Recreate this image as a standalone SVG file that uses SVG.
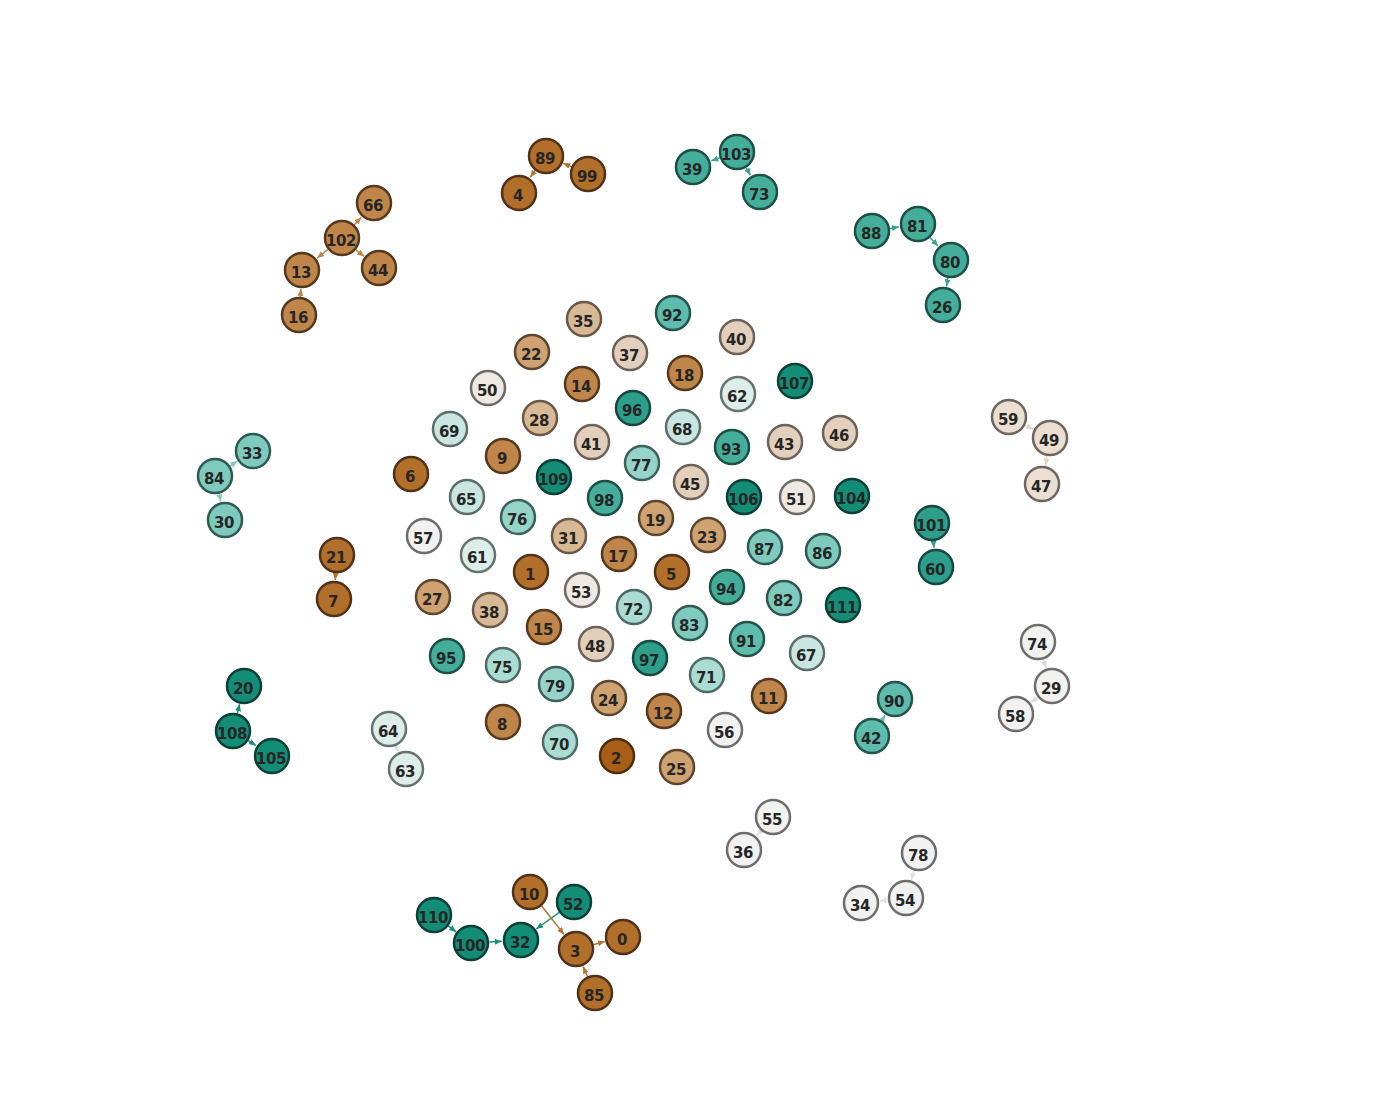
<svg xmlns="http://www.w3.org/2000/svg" width="1374" height="1100" viewBox="0 0 1374 1100">
<style>
.node circle{stroke-width:2.5}
.node text{font-family:"DejaVu Sans","Liberation Sans",sans-serif;font-size:15px;font-weight:bold;letter-spacing:-0.5px;fill:#262626;text-anchor:middle}
.b0 circle{fill:#a85e16;stroke:#4e2d0b}
.b1 circle{fill:#b16f2a;stroke:#50321a}
.b2 circle{fill:#bf8549;stroke:#54391f}
.b3 circle{fill:#cfa272;stroke:#5e4530}
.b4 circle{fill:#d8b995;stroke:#6a5849}
.b5 circle{fill:#e3d0bc;stroke:#6c6259}
.b6 circle{fill:#ebdfd2;stroke:#6e6660}
.n circle{fill:#efe9e3;stroke:#6f6b68}
.n2 circle{fill:#f1f1f0;stroke:#6d6d6d}
.t0 circle{fill:#dcedea;stroke:#667370}
.t1 circle{fill:#c9e6e0;stroke:#5c6f6b}
.t2 circle{fill:#abdcd3;stroke:#4e6b65}
.t3 circle{fill:#96d3c8;stroke:#3d615a}
.t4 circle{fill:#7ecabd;stroke:#2f5a52}
.t5 circle{fill:#5dbcab;stroke:#24544a}
.t6 circle{fill:#45ae9b;stroke:#1d4f45}
.t7 circle{fill:#2c9e89;stroke:#15483e}
.t8 circle{fill:#148d77;stroke:#0c3f35}
.e{fill:none;stroke-width:1.5}
</style>
<defs>
<marker id="mb2" markerUnits="userSpaceOnUse" markerWidth="7" markerHeight="6" refX="7" refY="3" orient="auto"><path d="M0,0L7,3L0,6z" fill="#c0874a"/></marker>
<marker id="mb1" markerUnits="userSpaceOnUse" markerWidth="7" markerHeight="6" refX="7" refY="3" orient="auto"><path d="M0,0L7,3L0,6z" fill="#b8732e"/></marker>
<marker id="mt6" markerUnits="userSpaceOnUse" markerWidth="7" markerHeight="6" refX="7" refY="3" orient="auto"><path d="M0,0L7,3L0,6z" fill="#35a590"/></marker>
<marker id="mt4" markerUnits="userSpaceOnUse" markerWidth="7" markerHeight="6" refX="7" refY="3" orient="auto"><path d="M0,0L7,3L0,6z" fill="#7ecabd"/></marker>
<marker id="mt7" markerUnits="userSpaceOnUse" markerWidth="7" markerHeight="6" refX="7" refY="3" orient="auto"><path d="M0,0L7,3L0,6z" fill="#2e9f8a"/></marker>
<marker id="mt8" markerUnits="userSpaceOnUse" markerWidth="7" markerHeight="6" refX="7" refY="3" orient="auto"><path d="M0,0L7,3L0,6z" fill="#17907a"/></marker>
<marker id="mt5" markerUnits="userSpaceOnUse" markerWidth="7" markerHeight="6" refX="7" refY="3" orient="auto"><path d="M0,0L7,3L0,6z" fill="#5ebfae"/></marker>
<marker id="ml1" markerUnits="userSpaceOnUse" markerWidth="7" markerHeight="6" refX="7" refY="3" orient="auto"><path d="M0,0L7,3L0,6z" fill="#e3d5c6"/></marker>
<marker id="ml2" markerUnits="userSpaceOnUse" markerWidth="7" markerHeight="6" refX="7" refY="3" orient="auto"><path d="M0,0L7,3L0,6z" fill="#d9dedc"/></marker>
<marker id="ml3" markerUnits="userSpaceOnUse" markerWidth="7" markerHeight="6" refX="7" refY="3" orient="auto"><path d="M0,0L7,3L0,6z" fill="#e4e1dd"/></marker>
<marker id="ml4" markerUnits="userSpaceOnUse" markerWidth="7" markerHeight="6" refX="7" refY="3" orient="auto"><path d="M0,0L7,3L0,6z" fill="#cfe6e1"/></marker>
</defs>
<rect width="1374" height="1100" fill="#ffffff"/>
<g id="connectors">
<line class="e" stroke="#c0874a" marker-end="url(#mb2)" x1="354" y1="225.1" x2="361.3" y2="217.2"/>
<line class="e" stroke="#c0874a" marker-end="url(#mb2)" x1="327.7" y1="249.6" x2="317.1" y2="258.1"/>
<line class="e" stroke="#c0874a" marker-end="url(#mb2)" x1="355.7" y1="249.6" x2="364.2" y2="256.4"/>
<line class="e" stroke="#c0874a" marker-end="url(#mb2)" x1="300.3" y1="297.1" x2="300.9" y2="288.9"/>
<line class="e" stroke="#b8732e" marker-end="url(#mb1)" x1="571.8" y1="166.9" x2="563.1" y2="163.2"/>
<line class="e" stroke="#b8732e" marker-end="url(#mb1)" x1="535.3" y1="170.3" x2="530.3" y2="177.3"/>
<line class="e" stroke="#35a590" marker-end="url(#mt6)" x1="720.2" y1="157.9" x2="711.3" y2="160.8"/>
<line class="e" stroke="#35a590" marker-end="url(#mt6)" x1="746.3" y1="167.9" x2="750.5" y2="175.2"/>
<line class="e" stroke="#35a590" marker-end="url(#mt6)" x1="890.1" y1="228.4" x2="898.9" y2="227.1"/>
<line class="e" stroke="#35a590" marker-end="url(#mt6)" x1="930" y1="237.5" x2="938" y2="246.1"/>
<line class="e" stroke="#35a590" marker-end="url(#mt6)" x1="948" y1="277.7" x2="946.5" y2="286.3"/>
<line class="e" stroke="#7ecabd" marker-end="url(#mt4)" x1="230.1" y1="465.9" x2="237.4" y2="461.1"/>
<line class="e" stroke="#7ecabd" marker-end="url(#mt4)" x1="219" y1="493.3" x2="220.8" y2="501.5"/>
<line class="e" stroke="#b8732e" marker-end="url(#mb1)" x1="335.7" y1="573" x2="335.3" y2="580"/>
<line class="e" stroke="#e3d5c6" marker-end="url(#ml1)" x1="1025.2" y1="425.1" x2="1033.2" y2="429.4"/>
<line class="e" stroke="#e3d5c6" marker-end="url(#ml1)" x1="1047" y1="456.1" x2="1045.4" y2="465.5"/>
<line class="e" stroke="#2e9f8a" marker-end="url(#mt7)" x1="933.4" y1="541.2" x2="934" y2="547.8"/>
<line class="e" stroke="#17907a" marker-end="url(#mt8)" x1="237.5" y1="713.2" x2="239.6" y2="704.2"/>
<line class="e" stroke="#17907a" marker-end="url(#mt8)" x1="248.3" y1="740.6" x2="255.8" y2="745.5"/>
<line class="e" stroke="#cfe6e1" marker-end="url(#ml4)" x1="395.9" y1="745.6" x2="398.4" y2="751.4"/>
<line class="e" stroke="#d9dedc" marker-end="url(#ml2)" x1="1043.4" y1="659.4" x2="1046.3" y2="668"/>
<line class="e" stroke="#d9dedc" marker-end="url(#ml2)" x1="1038.1" y1="697.1" x2="1031" y2="702.6"/>
<line class="e" stroke="#5ebfae" marker-end="url(#mt5)" x1="881.7" y1="720.6" x2="885.1" y2="715.2"/>
<line class="e" stroke="#e4e1dd" marker-end="url(#ml3)" x1="761.3" y1="830.2" x2="756.4" y2="835.8"/>
<line class="e" stroke="#e4e1dd" marker-end="url(#ml3)" x1="914" y1="870.1" x2="911.3" y2="880"/>
<line class="e" stroke="#e4e1dd" marker-end="url(#ml3)" x1="888.5" y1="900" x2="879.6" y2="900.9"/>
<line class="e" stroke="#17907a" marker-end="url(#mt8)" x1="448.3" y1="925.8" x2="456.2" y2="931.9"/>
<line class="e" stroke="#17907a" marker-end="url(#mt8)" x1="489.4" y1="942.1" x2="501.7" y2="941.3"/>
<line class="e" stroke="#17907a" marker-end="url(#mt8)" x1="559.7" y1="912.2" x2="536.2" y2="929"/>
<line class="e" stroke="#b8732e" marker-end="url(#mb1)" x1="541.5" y1="905.8" x2="564" y2="934.4"/>
<line class="e" stroke="#b8732e" marker-end="url(#mb1)" x1="593.1" y1="944.7" x2="604.8" y2="941.6"/>
<line class="e" stroke="#b8732e" marker-end="url(#mb1)" x1="587.5" y1="976.8" x2="583.1" y2="966.6"/>
</g>
<g id="n66" class="node b2" transform="translate(374,203)"><circle r="17"/><text x="-1" y="8">66</text></g>
<g id="n102" class="node b2" transform="translate(342,238)"><circle r="17"/><text x="-1" y="8">102</text></g>
<g id="n13" class="node b2" transform="translate(302,270)"><circle r="17"/><text x="-1" y="8">13</text></g>
<g id="n44" class="node b2" transform="translate(379,268)"><circle r="17"/><text x="-1" y="8">44</text></g>
<g id="n16" class="node b2" transform="translate(299,315)"><circle r="17"/><text x="-1" y="8">16</text></g>
<g id="n89" class="node b1" transform="translate(546,156)"><circle r="17"/><text x="-1" y="8">89</text></g>
<g id="n99" class="node b1" transform="translate(588,174)"><circle r="17"/><text x="-1" y="8">99</text></g>
<g id="n4" class="node b1" transform="translate(519,193)"><circle r="17"/><text x="-1" y="8">4</text></g>
<g id="n39" class="node t6" transform="translate(693,167)"><circle r="17"/><text x="-1" y="8">39</text></g>
<g id="n103" class="node t6" transform="translate(737,152)"><circle r="17"/><text x="-1" y="8">103</text></g>
<g id="n73" class="node t6" transform="translate(760,192)"><circle r="17"/><text x="-1" y="8">73</text></g>
<g id="n88" class="node t6" transform="translate(872,231)"><circle r="17"/><text x="-1" y="8">88</text></g>
<g id="n81" class="node t6" transform="translate(918,224)"><circle r="17"/><text x="-1" y="8">81</text></g>
<g id="n80" class="node t6" transform="translate(951,260)"><circle r="17"/><text x="-1" y="8">80</text></g>
<g id="n26" class="node t6" transform="translate(943,305)"><circle r="17"/><text x="-1" y="8">26</text></g>
<g id="n35" class="node b4" transform="translate(584,319)"><circle r="17"/><text x="-1" y="8">35</text></g>
<g id="n92" class="node t5" transform="translate(673,313)"><circle r="17"/><text x="-1" y="8">92</text></g>
<g id="n40" class="node b5" transform="translate(737,337)"><circle r="17"/><text x="-1" y="8">40</text></g>
<g id="n22" class="node b3" transform="translate(532,352)"><circle r="17"/><text x="-1" y="8">22</text></g>
<g id="n37" class="node b5" transform="translate(630,353)"><circle r="17"/><text x="-1" y="8">37</text></g>
<g id="n18" class="node b2" transform="translate(685,373)"><circle r="17"/><text x="-1" y="8">18</text></g>
<g id="n50" class="node n" transform="translate(488,388)"><circle r="17"/><text x="-1" y="8">50</text></g>
<g id="n14" class="node b2" transform="translate(582,384)"><circle r="17"/><text x="-1" y="8">14</text></g>
<g id="n107" class="node t8" transform="translate(795,381)"><circle r="17"/><text x="-1" y="8">107</text></g>
<g id="n62" class="node t0" transform="translate(738,394)"><circle r="17"/><text x="-1" y="8">62</text></g>
<g id="n28" class="node b4" transform="translate(540,418)"><circle r="17"/><text x="-1" y="8">28</text></g>
<g id="n96" class="node t7" transform="translate(633,408)"><circle r="17"/><text x="-1" y="8">96</text></g>
<g id="n68" class="node t1" transform="translate(683,427)"><circle r="17"/><text x="-1" y="8">68</text></g>
<g id="n69" class="node t1" transform="translate(450,429)"><circle r="17"/><text x="-1" y="8">69</text></g>
<g id="n41" class="node b5" transform="translate(592,442)"><circle r="17"/><text x="-1" y="8">41</text></g>
<g id="n93" class="node t6" transform="translate(732,447)"><circle r="17"/><text x="-1" y="8">93</text></g>
<g id="n43" class="node b5" transform="translate(785,442)"><circle r="17"/><text x="-1" y="8">43</text></g>
<g id="n46" class="node b5" transform="translate(840,433)"><circle r="17"/><text x="-1" y="8">46</text></g>
<g id="n9" class="node b2" transform="translate(503,456)"><circle r="17"/><text x="-1" y="8">9</text></g>
<g id="n6" class="node b1" transform="translate(411,474)"><circle r="17"/><text x="-1" y="8">6</text></g>
<g id="n77" class="node t3" transform="translate(642,463)"><circle r="17"/><text x="-1" y="8">77</text></g>
<g id="n109" class="node t8" transform="translate(554,477)"><circle r="17"/><text x="-1" y="8">109</text></g>
<g id="n45" class="node b5" transform="translate(691,482)"><circle r="17"/><text x="-1" y="8">45</text></g>
<g id="n65" class="node t1" transform="translate(467,497)"><circle r="17"/><text x="-1" y="8">65</text></g>
<g id="n76" class="node t3" transform="translate(518,517)"><circle r="17"/><text x="-1" y="8">76</text></g>
<g id="n98" class="node t6" transform="translate(605,498)"><circle r="17"/><text x="-1" y="8">98</text></g>
<g id="n19" class="node b3" transform="translate(656,518)"><circle r="17"/><text x="-1" y="8">19</text></g>
<g id="n106" class="node t8" transform="translate(744,497)"><circle r="17"/><text x="-1" y="8">106</text></g>
<g id="n51" class="node n" transform="translate(797,497)"><circle r="17"/><text x="-1" y="8">51</text></g>
<g id="n104" class="node t8" transform="translate(852,496)"><circle r="17"/><text x="-1" y="8">104</text></g>
<g id="n57" class="node n2" transform="translate(424,536)"><circle r="17"/><text x="-1" y="8">57</text></g>
<g id="n31" class="node b4" transform="translate(569,536)"><circle r="17"/><text x="-1" y="8">31</text></g>
<g id="n17" class="node b2" transform="translate(619,554)"><circle r="17"/><text x="-1" y="8">17</text></g>
<g id="n23" class="node b3" transform="translate(708,535)"><circle r="17"/><text x="-1" y="8">23</text></g>
<g id="n87" class="node t4" transform="translate(765,547)"><circle r="17"/><text x="-1" y="8">87</text></g>
<g id="n86" class="node t4" transform="translate(823,551)"><circle r="17"/><text x="-1" y="8">86</text></g>
<g id="n61" class="node t0" transform="translate(478,555)"><circle r="17"/><text x="-1" y="8">61</text></g>
<g id="n1" class="node b1" transform="translate(531,572)"><circle r="17"/><text x="-1" y="8">1</text></g>
<g id="n53" class="node n" transform="translate(582,590)"><circle r="17"/><text x="-1" y="8">53</text></g>
<g id="n5" class="node b1" transform="translate(672,572)"><circle r="17"/><text x="-1" y="8">5</text></g>
<g id="n94" class="node t6" transform="translate(727,587)"><circle r="17"/><text x="-1" y="8">94</text></g>
<g id="n82" class="node t4" transform="translate(784,598)"><circle r="17"/><text x="-1" y="8">82</text></g>
<g id="n111" class="node t8" transform="translate(843,605)"><circle r="17"/><text x="-1" y="8">111</text></g>
<g id="n27" class="node b3" transform="translate(433,597)"><circle r="17"/><text x="-1" y="8">27</text></g>
<g id="n38" class="node b4" transform="translate(490,610)"><circle r="17"/><text x="-1" y="8">38</text></g>
<g id="n15" class="node b2" transform="translate(544,627)"><circle r="17"/><text x="-1" y="8">15</text></g>
<g id="n72" class="node t2" transform="translate(634,607)"><circle r="17"/><text x="-1" y="8">72</text></g>
<g id="n83" class="node t4" transform="translate(690,623)"><circle r="17"/><text x="-1" y="8">83</text></g>
<g id="n91" class="node t5" transform="translate(747,639)"><circle r="17"/><text x="-1" y="8">91</text></g>
<g id="n48" class="node b5" transform="translate(596,644)"><circle r="17"/><text x="-1" y="8">48</text></g>
<g id="n67" class="node t1" transform="translate(807,653)"><circle r="17"/><text x="-1" y="8">67</text></g>
<g id="n95" class="node t6" transform="translate(447,656)"><circle r="17"/><text x="-1" y="8">95</text></g>
<g id="n75" class="node t2" transform="translate(503,665)"><circle r="17"/><text x="-1" y="8">75</text></g>
<g id="n79" class="node t3" transform="translate(556,684)"><circle r="17"/><text x="-1" y="8">79</text></g>
<g id="n97" class="node t7" transform="translate(650,658)"><circle r="17"/><text x="-1" y="8">97</text></g>
<g id="n71" class="node t2" transform="translate(707,675)"><circle r="17"/><text x="-1" y="8">71</text></g>
<g id="n24" class="node b3" transform="translate(609,698)"><circle r="17"/><text x="-1" y="8">24</text></g>
<g id="n12" class="node b2" transform="translate(664,711)"><circle r="17"/><text x="-1" y="8">12</text></g>
<g id="n11" class="node b2" transform="translate(769,696)"><circle r="17"/><text x="-1" y="8">11</text></g>
<g id="n8" class="node b2" transform="translate(503,722)"><circle r="17"/><text x="-1" y="8">8</text></g>
<g id="n56" class="node n2" transform="translate(725,730)"><circle r="17"/><text x="-1" y="8">56</text></g>
<g id="n70" class="node t2" transform="translate(560,742)"><circle r="17"/><text x="-1" y="8">70</text></g>
<g id="n2" class="node b0" transform="translate(617,756)"><circle r="17"/><text x="-1" y="8">2</text></g>
<g id="n25" class="node b3" transform="translate(677,767)"><circle r="17"/><text x="-1" y="8">25</text></g>
<g id="n33" class="node t4" transform="translate(253,451)"><circle r="17"/><text x="-1" y="8">33</text></g>
<g id="n84" class="node t4" transform="translate(215,476)"><circle r="17"/><text x="-1" y="8">84</text></g>
<g id="n30" class="node t4" transform="translate(225,520)"><circle r="17"/><text x="-1" y="8">30</text></g>
<g id="n21" class="node b1" transform="translate(337,555)"><circle r="17"/><text x="-1" y="8">21</text></g>
<g id="n7" class="node b1" transform="translate(334,599)"><circle r="17"/><text x="-1" y="8">7</text></g>
<g id="n20" class="node t8" transform="translate(244,686)"><circle r="17"/><text x="-1" y="8">20</text></g>
<g id="n108" class="node t8" transform="translate(233,731)"><circle r="17"/><text x="-1" y="8">108</text></g>
<g id="n105" class="node t8" transform="translate(272,756)"><circle r="17"/><text x="-1" y="8">105</text></g>
<g id="n64" class="node t0" transform="translate(389,729)"><circle r="17"/><text x="-1" y="8">64</text></g>
<g id="n63" class="node t0" transform="translate(406,769)"><circle r="17"/><text x="-1" y="8">63</text></g>
<g id="n59" class="node b6" transform="translate(1009,417)"><circle r="17"/><text x="-1" y="8">59</text></g>
<g id="n49" class="node b6" transform="translate(1050,438)"><circle r="17"/><text x="-1" y="8">49</text></g>
<g id="n47" class="node b6" transform="translate(1042,484)"><circle r="17"/><text x="-1" y="8">47</text></g>
<g id="n101" class="node t7" transform="translate(932,523)"><circle r="17"/><text x="-1" y="8">101</text></g>
<g id="n60" class="node t7" transform="translate(936,567)"><circle r="17"/><text x="-1" y="8">60</text></g>
<g id="n74" class="node n2" transform="translate(1038,642)"><circle r="17"/><text x="-1" y="8">74</text></g>
<g id="n29" class="node n2" transform="translate(1052,686)"><circle r="17"/><text x="-1" y="8">29</text></g>
<g id="n58" class="node n2" transform="translate(1016,714)"><circle r="17"/><text x="-1" y="8">58</text></g>
<g id="n90" class="node t5" transform="translate(895,699)"><circle r="17"/><text x="-1" y="8">90</text></g>
<g id="n42" class="node t5" transform="translate(872,736)"><circle r="17"/><text x="-1" y="8">42</text></g>
<g id="n55" class="node n2" transform="translate(773,817)"><circle r="17"/><text x="-1" y="8">55</text></g>
<g id="n36" class="node n2" transform="translate(744,850)"><circle r="17"/><text x="-1" y="8">36</text></g>
<g id="n78" class="node n2" transform="translate(919,853)"><circle r="17"/><text x="-1" y="8">78</text></g>
<g id="n54" class="node n2" transform="translate(906,898)"><circle r="17"/><text x="-1" y="8">54</text></g>
<g id="n34" class="node n2" transform="translate(861,903)"><circle r="17"/><text x="-1" y="8">34</text></g>
<g id="n10" class="node b1" transform="translate(530,892)"><circle r="17"/><text x="-1" y="8">10</text></g>
<g id="n52" class="node t8" transform="translate(574,902)"><circle r="17"/><text x="-1" y="8">52</text></g>
<g id="n110" class="node t8" transform="translate(434,915)"><circle r="17"/><text x="-1" y="8">110</text></g>
<g id="n100" class="node t8" transform="translate(471,943)"><circle r="17"/><text x="-1" y="8">100</text></g>
<g id="n32" class="node t8" transform="translate(521,940)"><circle r="17"/><text x="-1" y="8">32</text></g>
<g id="n3" class="node b1" transform="translate(576,949)"><circle r="17"/><text x="-1" y="8">3</text></g>
<g id="n0" class="node b1" transform="translate(623,937)"><circle r="17"/><text x="-1" y="8">0</text></g>
<g id="n85" class="node b1" transform="translate(595,993)"><circle r="17"/><text x="-1" y="8">85</text></g>
</svg>
